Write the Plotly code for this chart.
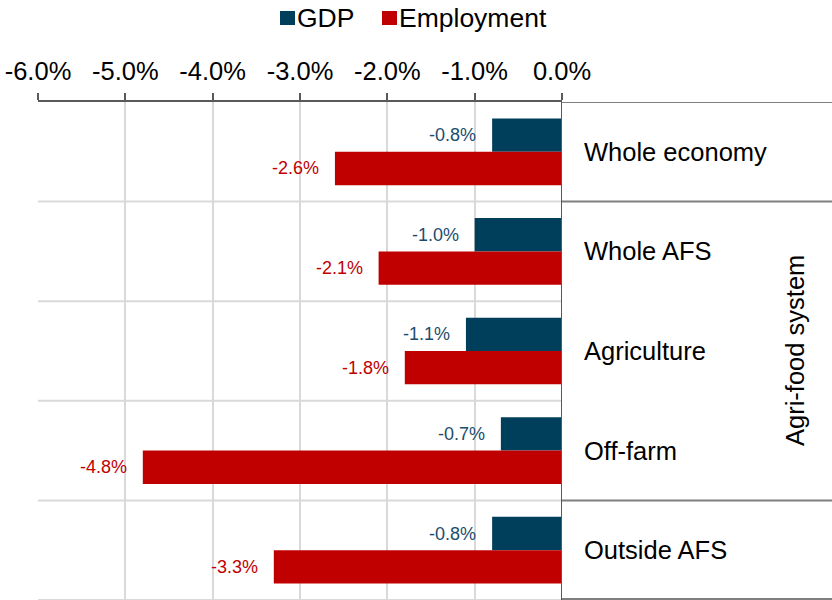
import plotly.graph_objects as go

# Change by sector (%)
categories = ["Whole economy", "Whole AFS", "Agriculture", "Off-farm", "Outside AFS"]
gdp = [-0.8, -1.0, -1.1, -0.7, -0.8]
employment = [-2.6, -2.1, -1.8, -4.8, -3.3]
series_names = ["GDP", "Employment"]
tick_vals = [-6, -5, -4, -3, -2, -1, 0]
tick_labels = ["-6.0%", "-5.0%", "-4.0%", "-3.0%", "-2.0%", "-1.0%", "0.0%"]
group_label = "Agri-food system"

GDP_COLOR = "#003f5c"
GDP_TEXT = "#1b4d6b"
EMP_COLOR = "#c00000"
GRID = "#d9d9d9"
DARK = "#595959"
PANEL = "#7f7f7f"
FONT = "Liberation Sans, Arial, sans-serif"

W, H = 832, 600
ML, MR, MT, MB = 38, 270, 102, 0
plot_w = W - ML - MR
plot_h = H - MT - MB


def px_x(px):
    """Figure pixel column -> paper x."""
    return (px - ML) / plot_w


def px_y(py):
    """Figure pixel row -> paper y."""
    return (H - MB - py) / plot_h


fig = go.Figure()
fig.add_trace(go.Bar(y=categories, x=gdp, orientation="h", name=series_names[0],
                     marker=dict(color=GDP_COLOR, line=dict(width=0))))
fig.add_trace(go.Bar(y=categories, x=employment, orientation="h", name=series_names[1],
                     marker=dict(color=EMP_COLOR, line=dict(width=0))))

bargap = 0.33
half = (1 - bargap) / 4  # centre offset of each bar within its group

annotations = []
for i, cat in enumerate(categories):
    for val, off, col in ((gdp[i], -half, GDP_TEXT), (employment[i], half, EMP_COLOR)):
        annotations.append(dict(
            x=val, y=i + off, xref="x", yref="y", text=f"{val:.1f}%",
            showarrow=False, xanchor="right", yanchor="middle", xshift=-14,
            font=dict(family=FONT, size=18, color=col)))
    annotations.append(dict(
        x=px_x(582), y=i, xref="paper", yref="y", text=cat,
        showarrow=False, xanchor="left", yanchor="middle",
        font=dict(family=FONT, size=25.5, color="#000000")))

annotations.append(dict(
    x=px_x(795), y=2, xref="paper", yref="y", text=group_label,
    showarrow=False, textangle=-90, xanchor="center", yanchor="middle",
    font=dict(family=FONT, size=25.5, color="#000000")))

shapes = []

# legend: colour swatch followed by series name
for name, color, sx in ((series_names[0], GDP_COLOR, 280), (series_names[1], EMP_COLOR, 382)):
    shapes.append(dict(type="rect", xref="paper", yref="paper",
                       x0=px_x(sx), x1=px_x(sx + 15), y0=px_y(25), y1=px_y(11),
                       fillcolor=color, line=dict(width=0)))
    annotations.append(dict(
        x=px_x(sx + 15), y=px_y(18), xref="paper", yref="paper", text=name,
        showarrow=False, xanchor="left", yanchor="middle",
        font=dict(family=FONT, size=26.5, color="#000000")))

# light separators between category rows inside the plot
for b in [0.5, 1.5, 2.5, 3.5, 4.5]:
    shapes.append(dict(type="line", xref="x", yref="y", x0=-6, x1=0, y0=b, y1=b,
                       line=dict(color=GRID, width=2), layer="below"))
# table rules in the label panel
x_end = px_x(W) + 0.01
for b in [-0.5, 0.5, 3.5]:
    shapes.append(dict(type="line", xref="paper", yref="y", x0=1, x1=x_end, y0=b, y1=b,
                       line=dict(color=PANEL, width=2)))
shapes.append(dict(type="line", xref="paper", yref="paper", x0=1, x1=x_end,
                   y0=px_y(599), y1=px_y(599), line=dict(color=PANEL, width=2)))
shapes.append(dict(type="line", xref="x", yref="paper", x0=0, x1=0, y0=0, y1=1,
                   line=dict(color=DARK, width=2)))

fig.update_layout(
    width=W, height=H,
    margin=dict(l=ML, r=MR, t=MT, b=MB),
    paper_bgcolor="white", plot_bgcolor="white",
    barmode="group", bargap=bargap, bargroupgap=0,
    font=dict(family=FONT, color="#000000"),
    showlegend=False,
    xaxis=dict(range=[-6, 0], side="top", tickvals=tick_vals, ticktext=tick_labels,
               ticks="outside", ticklen=7, tickwidth=2, tickcolor=DARK,
               ticklabelstandoff=3,
               showline=True, linecolor=DARK, linewidth=2,
               showgrid=True, gridcolor=GRID, gridwidth=2, zeroline=False,
               tickfont=dict(family=FONT, size=25.5, color="#000000"),
               fixedrange=True),
    yaxis=dict(range=[4.5, -0.5], showticklabels=False, showgrid=False,
               zeroline=False, showline=False, ticks=""),
    annotations=annotations,
    shapes=shapes,
)

fig.write_html("out.html")
